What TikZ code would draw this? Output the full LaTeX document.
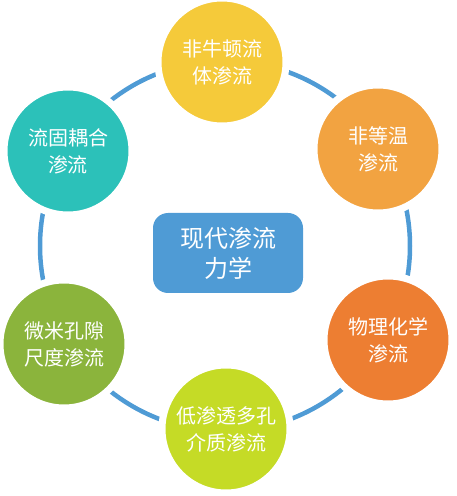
\documentclass[tikz,border=0pt]{standalone}
\usepackage{fontspec}
\newfontfamily\cjk{Noto Sans CJK SC}
\definecolor{ringblue}{RGB}{79,155,213}
\definecolor{topyellow}{RGB}{245,202,58}
\definecolor{lightorange}{RGB}{242,163,65}
\definecolor{deeporange}{RGB}{237,126,50}
\definecolor{limegreen}{RGB}{197,219,38}
\definecolor{olivegreen}{RGB}{139,180,60}
\definecolor{tealgreen}{RGB}{44,193,185}
\usetikzlibrary{positioning}

\begin{document}
\begin{tikzpicture}[
          x=1pt, y=1pt,
          ring/.style={
              draw=ringblue,
              line width=4.5pt
            },
          topic/.style={
              circle,
              draw=white,
              line width=7pt,
              minimum size=128pt,
              inner sep=0pt,
              text=white,
              font=\cjk\fontsize{20}{27}\selectfont,
              align=center
            },
          core/.style={
              fill=ringblue,
              rounded corners=15pt,
              minimum width=150pt,
              minimum height=80pt,
              text=white,
              font=\cjk\fontsize{24}{30}\selectfont,
              align=center
            }
        ]
        \useasboundingbox (0,0) rectangle (456,496);

        \coordinate (hub) at (225,250);
        \draw[ring] (hub) circle (185);

        \node[core] (mech) at (228,243) {现代渗流\\力学};

        \node[topic, fill=topyellow] (nonnewton) at (222,434) {非牛顿流\\体渗流};
        \node[topic, fill=lightorange] (nonisotherm) at (378,347) {非等温\\渗流};
        \node[topic, fill=deeporange] (physchem) at (388,156) {物理化学\\渗流};
        \node[topic, fill=limegreen] (lowperm) at (226,67) {低渗透多孔\\介质渗流};
        \node[topic, fill=olivegreen] (micro) at (64,152) {微米孔隙\\尺度渗流};
        \node[topic, fill=tealgreen] (coupled) at (68,345) {流固耦合\\渗流};
      \end{tikzpicture}
\end{document}
